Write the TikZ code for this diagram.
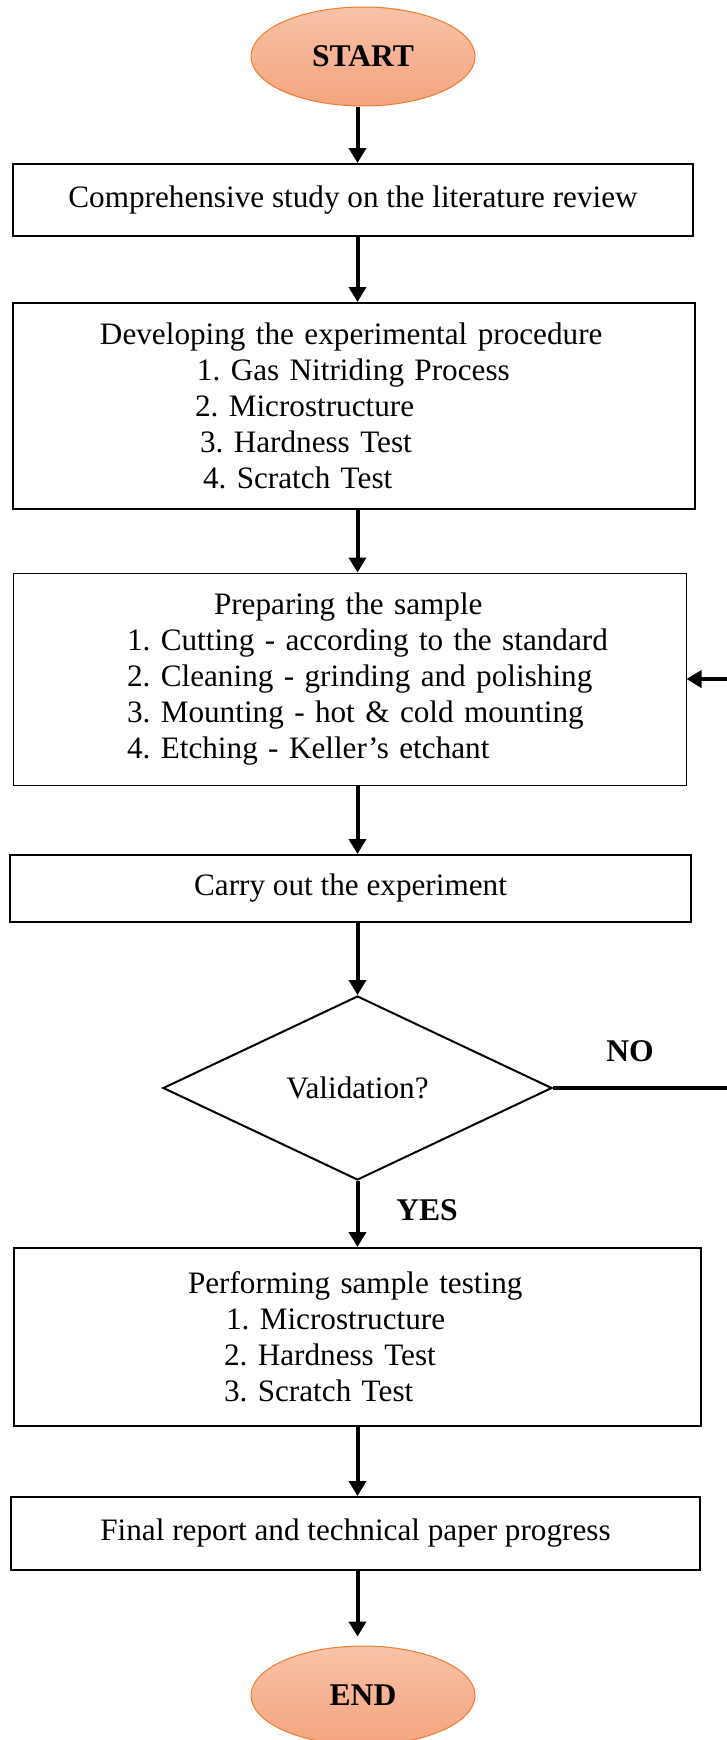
\documentclass[tikz,border=0pt]{standalone}
\usepackage{fontspec}
\setmainfont{Liberation Serif}
\usetikzlibrary{shapes.geometric,arrows.meta}
\definecolor{termtop}{RGB}{248,194,168}
\definecolor{termbot}{RGB}{244,164,126}
\definecolor{termline}{RGB}{237,125,49}
\newdimen\px \px=0.5pt
\frenchspacing

\begin{document}
\begin{tikzpicture} [
            x=0.5pt, y=-0.5pt,
            every node/.style={font=\fontsize{15.6}{18}\selectfont},
            terminal/.style={ellipse,draw=termline,line width=0.5pt,top color=termtop,bottom color=termbot,
                minimum width=112pt,minimum height=49.5pt,inner sep=0pt,font=\fontsize{15.8}{18}\selectfont\bfseries},
            process/.style={rectangle,draw,line width=1pt,inner sep=0pt,align=center},
            decision/.style={diamond,draw,line width=1pt,inner sep=0pt,minimum width=194.5pt,minimum height=92pt},
            answer/.style={font=\fontsize{15.8}{18}\selectfont\bfseries},
            flow/.style={draw,line width=2pt,-{Triangle[length=7.5pt,width=8.5pt]}},
        ]
        \useasboundingbox (0,0) rectangle (727,1740);
        % terminals
        \node[terminal] (start) at (363,56.5) {START};
        \node[terminal] (finish) at (363,1695.5) {END};
        % steps
        \node[process,minimum width=340pt,minimum height=36pt] (lit) at (353,200)
            {Comprehensive study on the literature review};
        \node[process,align=left,text width=341pt,minimum height=103pt] (dev) at (354,406)
            {\hspace*{87\px}Developing the experimental procedure\\
             \hspace*{184\px}1. Gas Nitriding Process\\
             \hspace*{182\px}2. Microstructure\\
             \hspace*{187\px}3. Hardness Test\\
             \hspace*{190\px}4. Scratch Test};
        \node[process,line width=0.5pt,align=left,text width=336.5pt,minimum height=106pt] (prep) at (349.5,679)
            {\hspace*{201\px}Preparing the sample\\
             \hspace*{114\px}1. Cutting - according to the standard\\
             \hspace*{114\px}2. Cleaning - grinding and polishing\\
             \hspace*{114\px}3. Mounting - hot \& cold mounting\\
             \hspace*{114\px}4. Etching - Keller’s etchant};
        \node[process,minimum width=340.5pt,minimum height=33.5pt] (run) at (350.5,888.5)
            {Carry out the experiment};
        \node[decision] (valid) at (357.5,1088) {Validation?};
        \node[process,align=left,text width=343.5pt,minimum height=89pt] (test) at (357.5,1337)
            {\hspace*{174\px}Performing sample testing\\
             \hspace*{212\px}1. Microstructure\\
             \hspace*{210\px}2. Hardness Test\\
             \hspace*{210\px}3. Scratch Test};
        \node[process,minimum width=344.5pt,minimum height=36.5pt] (final) at (355.5,1533.5)
            {Final report and technical paper progress};
        % branch labels
        \node[answer] (yes) at (427,1210) {YES};
        \node[answer] (no) at (630,1051) {NO};
        % connectors
        \foreach \source/\dest in {
                start/lit,lit/dev,dev/prep,prep/run,run/valid,valid/test,test/final}
            \draw[flow] (\source.south -| valid) -- (\dest.north -| valid);
        \draw[flow,shorten >=4.5pt] (final.south -| valid) -- (finish.north -| valid);
        \coordinate (back) at (730,1088);
        \draw[flow] (valid.east) -- (valid.east -| back) |- (prep.east);
    \end{tikzpicture}
\end{document}
